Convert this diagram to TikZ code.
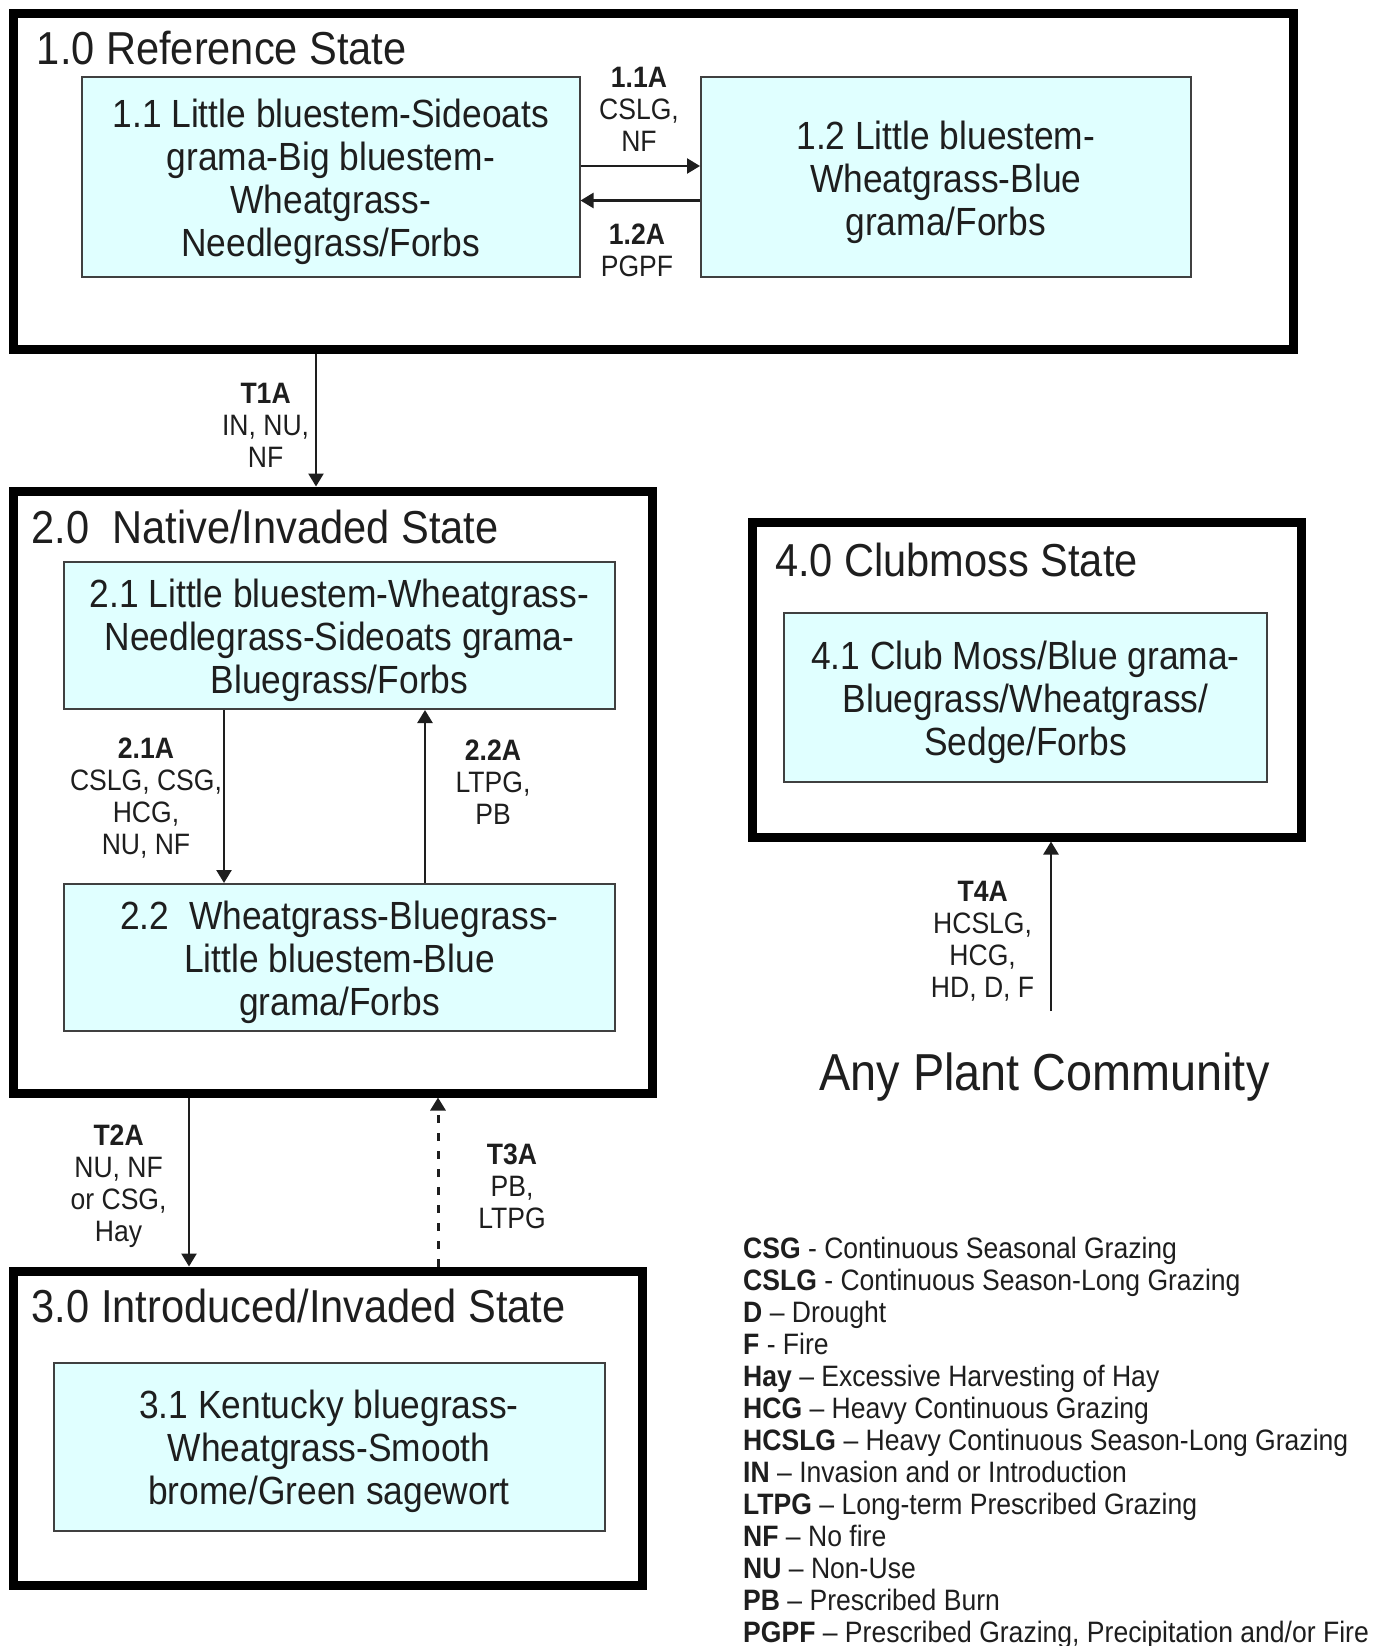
\documentclass[tikz,border=0pt]{standalone}
\usepackage{fontspec}
\setmainfont{Liberation Sans}[FakeStretch=0.9]
\usetikzlibrary{arrows.meta}
\definecolor{cellfill}{RGB}{224,255,255}
\definecolor{inkc}{RGB}{30,30,30}
\newcommand\titlefnt{\fontsize{46.2}{52}\selectfont}
\newcommand\boxfnt{\fontsize{39.3}{43}\selectfont}
\newcommand\labfnt{\fontsize{29.5}{32}\selectfont}
\newcommand\legfnt{\fontsize{29.5}{32}\selectfont}
\newcommand\anyfnt{\fontsize{52}{60}\selectfont}
\begin{document}
\begin{tikzpicture}[x=1pt,y=-1pt,
  statebox/.style={draw=black, line width=9pt, inner sep=0pt},
  commbox/.style={draw=black!75, fill=cellfill, line width=2pt, inner sep=0pt},
  commtext/.style={align=center, font=\boxfnt, text=inkc, inner sep=0pt},
  stitle/.style={anchor=west, font=\titlefnt, text=inkc, inner sep=0pt},
  lab/.style={align=center, font=\labfnt, text=inkc, inner sep=0pt},
  arr/.style={line width=2.5pt, draw=inkc, -{Triangle[length=13pt,width=15pt]}},
  leg/.style={anchor=base west, font=\legfnt, text=inkc, inner sep=0pt}
]
\useasboundingbox[fill=white] (0,0) rectangle (1390,1646);

% state boxes
\node[statebox, minimum width=1280pt, minimum height=335pt] (s1) at (653,181.5) {};
\node[statebox, minimum width=639pt, minimum height=602pt] (s2) at (332.5,792) {};
\node[statebox, minimum width=629pt, minimum height=314pt] (s3) at (327.5,1428) {};
\node[statebox, minimum width=549pt, minimum height=315pt] (s4) at (1026.5,679.5) {};

% titles
\node[stitle] (t1) at (36.7,48) {1.0 Reference State};
\node[stitle] (t2) at (31.5,527) {2.0\ \ Native/Invaded State};
\node[stitle] (t3) at (31.5,1306) {3.0 Introduced/Invaded State};
\node[stitle] (t4) at (774.8,560) {4.0 Clubmoss State};

% community boxes
\node[commbox, minimum width=497.5pt, minimum height=200pt] (b11) at (330.75,177) {};
\node[commbox, minimum width=489.5pt, minimum height=200pt] (b12) at (945.75,177) {};
\node[commbox, minimum width=551pt, minimum height=147pt] (b21) at (339.5,635.5) {};
\node[commbox, minimum width=551pt, minimum height=147pt] (b22) at (339.5,957.5) {};
\node[commbox, minimum width=551pt, minimum height=167.5pt] (b31) at (329,1446.75) {};
\node[commbox, minimum width=483pt, minimum height=169pt] (b41) at (1025.5,697.5) {};

\node[commtext] (b11t) at ([yshift=-5pt]b11.center)
  {1.1 Little bluestem-Sideoats\\grama-Big bluestem-\\Wheatgrass-\\Needlegrass/Forbs};
\node[commtext] (b12t) at ([yshift=-5pt]b12.center)
  {1.2 Little bluestem-\\Wheatgrass-Blue\\grama/Forbs};
\node[commtext] (b21t) at ([yshift=-5pt]b21.center)
  {2.1 Little bluestem-Wheatgrass-\\Needlegrass-Sideoats grama-\\Bluegrass/Forbs};
\node[commtext] (b22t) at ([yshift=-5pt]b22.center)
  {2.2\ \ Wheatgrass-Bluegrass-\\Little bluestem-Blue\\grama/Forbs};
\node[commtext] (b31t) at ([yshift=-5pt]b31.center)
  {3.1 Kentucky bluegrass-\\Wheatgrass-Smooth\\brome/Green sagewort};
\node[commtext] (b41t) at ([yshift=-5pt]b41.center)
  {4.1 Club Moss/Blue grama-\\Bluegrass/Wheatgrass/\\Sedge/Forbs};

% transitions
\draw[arr] (b11.east |- 0,166) -- (b12.west |- 0,166);
\draw[arr] (b12.west |- 0,200.5) -- (b11.east |- 0,200.5);
\draw[arr] (s1.south -| 316,0) -- (s2.north -| 316,0);
\draw[arr] (b21.south -| 224,0) -- (b22.north -| 224,0);
\draw[arr] (b22.north -| 425,0) -- (b21.south -| 425,0);
\draw[arr] (s2.south -| 189,0) -- (s3.north -| 189,0);
\draw[arr, line width=3pt, dash pattern=on 8pt off 10pt] (s3.north -| 438,0) -- (s2.south -| 438,0);
\coordinate (apc) at (1051,1011);
\draw[arr] (apc) -- (s4.south -| apc);

% labels
\node[lab] (l11) at (639,109) {\textbf{1.1A}\\CSLG,\\NF};
\node[lab] (l12) at (637,250) {\textbf{1.2A}\\PGPF};
\node[lab] (lt1) at (265.6,425) {\textbf{T1A}\\IN, NU,\\NF};
\node[lab] (l21) at (146,798.5) {\textbf{2.1A}\\CSLG, CSG,\\HCG,\\NU, NF};
\node[lab] (l22) at (493,782) {\textbf{2.2A}\\LTPG,\\PB};
\node[lab] (lt2) at (118.6,1186) {\textbf{T2A}\\NU, NF\\or CSG,\\Hay};
\node[lab] (lt3) at (512,1186) {\textbf{T3A}\\PB,\\LTPG};
\node[lab] (lt4) at (982.6,941) {\textbf{T4A}\\HCSLG,\\HCG,\\HD, D, F};

\node[font=\anyfnt, text=inkc, inner sep=0pt] (any) at (1044.5,1077) {Any Plant Community};

% legend
\node[leg] (g1)  at (743,1258) {\textbf{CSG} - Continuous Seasonal Grazing};
\node[leg] (g2)  at (743,1290) {\textbf{CSLG} - Continuous Season-Long Grazing};
\node[leg] (g3)  at (743,1322) {\textbf{D} -- Drought};
\node[leg] (g4)  at (743,1354) {\textbf{F} - Fire};
\node[leg] (g5)  at (743,1386) {\textbf{Hay} -- Excessive Harvesting of Hay};
\node[leg] (g6)  at (743,1418) {\textbf{HCG} -- Heavy Continuous Grazing};
\node[leg] (g7)  at (743,1450) {\textbf{HCSLG} -- Heavy Continuous Season-Long Grazing};
\node[leg] (g8)  at (743,1482) {\textbf{IN} -- Invasion and or Introduction};
\node[leg] (g9)  at (743,1514) {\textbf{LTPG} -- Long-term Prescribed Grazing};
\node[leg] (g10) at (743,1546) {\textbf{NF} -- No fire};
\node[leg] (g11) at (743,1578) {\textbf{NU} -- Non-Use};
\node[leg] (g12) at (743,1610) {\textbf{PB} -- Prescribed Burn};
\node[leg] (g13) at (743,1642) {\textbf{PGPF} -- Prescribed Grazing, Precipitation and/or Fire};
\end{tikzpicture}
\end{document}
